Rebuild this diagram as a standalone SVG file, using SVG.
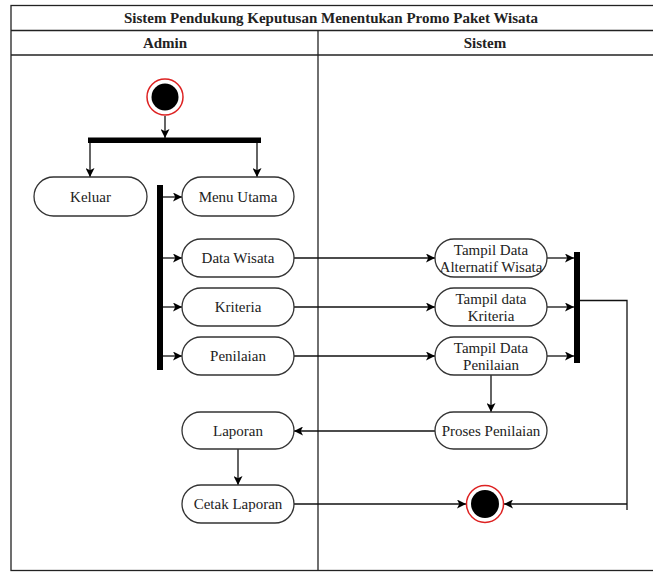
<svg xmlns="http://www.w3.org/2000/svg" width="653" height="572" viewBox="0 0 653 572">
  <defs>
    <marker id="arrow" viewBox="0 0 10 10" refX="10" refY="5" markerWidth="9" markerHeight="9" markerUnits="userSpaceOnUse" orient="auto">
      <path d="M0,0 L10,5 L0,10 L2.5,5 Z" fill="#000"/>
    </marker>
  </defs>
  <style>
    .frame { fill: none; stroke: #222; stroke-width: 1.3; }
    .act { fill: #fff; stroke: #333; stroke-width: 1.3; }
    .bar { fill: #000; }
    .lbl { font-family: 'Liberation Serif', 'Times New Roman', Times, 'DejaVu Serif', serif; font-size: 15px; fill: #222; text-anchor: middle; }
    .hdr { font-family: 'Liberation Serif', 'Times New Roman', Times, 'DejaVu Serif', serif; font-size: 15px; font-weight: bold; fill: #222; text-anchor: middle; }
    .edge { fill: none; stroke: #111; stroke-width: 1.3; }
    .arr { marker-end: url(#arrow); }
    .ring { fill: #fff; stroke: #d22; stroke-width: 1.5; }
  </style>

  <rect x="0" y="0" width="653" height="572" fill="#fff"/>

  <!-- swimlane frame -->
  <g id="swimlanes">
    <rect class="frame" x="11" y="5.5" width="650" height="565"/>
    <line class="frame" x1="11" y1="30.5" x2="653" y2="30.5"/>
    <line class="frame" x1="11" y1="55" x2="653" y2="55"/>
    <line class="frame" x1="318" y1="30.5" x2="318" y2="570.5"/>
    <text class="hdr" x="331" y="23" font-family="Liberation Serif, serif">Sistem Pendukung Keputusan Menentukan Promo Paket Wisata</text>
    <text class="hdr" x="165" y="48" font-family="Liberation Serif, serif">Admin</text>
    <text class="hdr" x="485" y="48" font-family="Liberation Serif, serif">Sistem</text>
  </g>

  <!-- connectors -->
  <g id="connectors">
    <line class="edge arr" x1="165" y1="116" x2="165" y2="138"/>
    <line class="edge arr" x1="90" y1="143" x2="90" y2="177"/>
    <line class="edge arr" x1="257" y1="143" x2="257" y2="177"/>
    <line class="edge arr" x1="163" y1="197" x2="182" y2="197"/>
    <line class="edge arr" x1="163" y1="258" x2="182" y2="258"/>
    <line class="edge arr" x1="163" y1="307" x2="182" y2="307"/>
    <line class="edge arr" x1="163" y1="356" x2="182" y2="356"/>
    <line class="edge arr" x1="294" y1="258" x2="435" y2="258"/>
    <line class="edge arr" x1="294" y1="307" x2="435" y2="307"/>
    <line class="edge arr" x1="294" y1="356" x2="435" y2="356"/>
    <line class="edge arr" x1="547" y1="258" x2="574" y2="258"/>
    <line class="edge arr" x1="547" y1="307" x2="574" y2="307"/>
    <line class="edge arr" x1="547" y1="356" x2="574" y2="356"/>
    <line class="edge arr" x1="491" y1="375" x2="491" y2="412"/>
    <line class="edge arr" x1="435" y1="431" x2="294" y2="431"/>
    <line class="edge arr" x1="238" y1="449" x2="238" y2="485"/>
    <line class="edge arr" x1="294" y1="504" x2="466" y2="504"/>
    <polyline class="edge" points="580,300.5 627,300.5 627,510"/>
    <line class="edge arr" x1="627" y1="504" x2="504" y2="504"/>
  </g>

  <!-- start node -->
  <g id="start">
    <circle class="ring" cx="165" cy="97" r="18"/>
    <circle cx="165" cy="97" r="13.5" fill="#000"/>
  </g>

  <!-- fork / join bars -->
  <g id="fork-top"><rect class="bar" x="88" y="137.5" width="173" height="5.5"/></g>
  <g id="fork-menu"><rect class="bar" x="157" y="185" width="6" height="185"/></g>
  <g id="join-sistem"><rect class="bar" x="574" y="252" width="6" height="111"/></g>

  <!-- admin activities -->
  <g id="keluar">
    <rect class="act" x="34" y="177" width="113" height="39" rx="19.5"/>
    <text class="lbl" x="90.5" y="201.5">Keluar</text>
  </g>
  <g id="menu-utama">
    <rect class="act" x="182" y="177" width="112" height="39" rx="19.5"/>
    <text class="lbl" x="238" y="201.5">Menu Utama</text>
  </g>
  <g id="data-wisata">
    <rect class="act" x="182" y="239" width="112" height="38" rx="19"/>
    <text class="lbl" x="238" y="263">Data Wisata</text>
  </g>
  <g id="kriteria">
    <rect class="act" x="182" y="288" width="112" height="38" rx="19"/>
    <text class="lbl" x="238" y="312">Kriteria</text>
  </g>
  <g id="penilaian">
    <rect class="act" x="182" y="337" width="112" height="38" rx="19"/>
    <text class="lbl" x="238" y="361">Penilaian</text>
  </g>
  <g id="laporan">
    <rect class="act" x="182" y="412" width="112" height="37" rx="18.5"/>
    <text class="lbl" x="238" y="436">Laporan</text>
  </g>
  <g id="cetak-laporan">
    <rect class="act" x="182" y="485" width="112" height="38" rx="19"/>
    <text class="lbl" x="238" y="509">Cetak Laporan</text>
  </g>

  <!-- system activities -->
  <g id="tampil-alternatif">
    <rect class="act" x="435" y="239" width="112" height="38" rx="19"/>
    <text class="lbl" x="491" y="255">Tampil Data</text>
    <text class="lbl" x="491" y="272">Alternatif Wisata</text>
  </g>
  <g id="tampil-kriteria">
    <rect class="act" x="435" y="288" width="112" height="38" rx="19"/>
    <text class="lbl" x="491" y="304">Tampil data</text>
    <text class="lbl" x="491" y="321">Kriteria</text>
  </g>
  <g id="tampil-penilaian">
    <rect class="act" x="435" y="337" width="112" height="38" rx="19"/>
    <text class="lbl" x="491" y="353">Tampil Data</text>
    <text class="lbl" x="491" y="370">Penilaian</text>
  </g>
  <g id="proses-penilaian">
    <rect class="act" x="435" y="412" width="112" height="37" rx="18.5"/>
    <text class="lbl" x="491" y="436">Proses Penilaian</text>
  </g>

  <!-- final node -->
  <g id="end">
    <circle class="ring" cx="485" cy="504" r="18.5"/>
    <circle cx="485" cy="504" r="14" fill="#000"/>
  </g>
</svg>
